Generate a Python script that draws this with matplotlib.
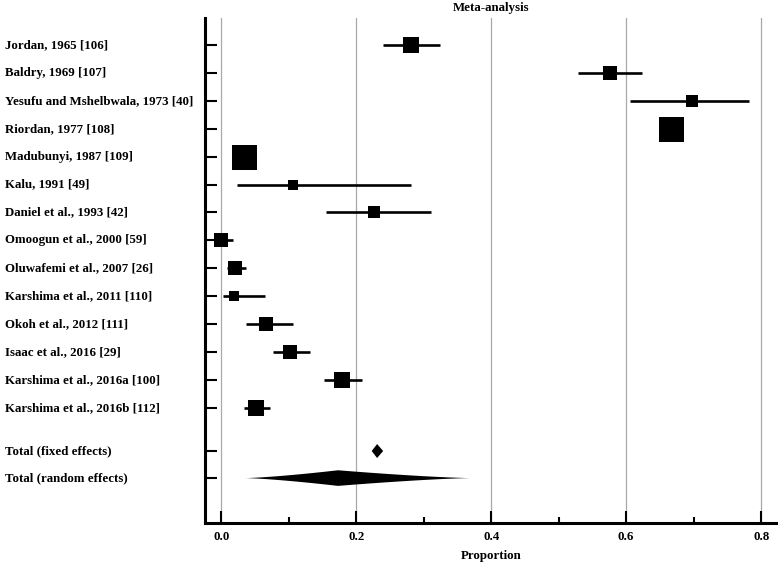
import numpy as np
import matplotlib
matplotlib.use("Agg")
import matplotlib.pyplot as plt
from matplotlib.transforms import blended_transform_factory
from matplotlib.ticker import MultipleLocator

studies = ["Jordan, 1965 [106]", "Baldry, 1969 [107]", "Yesufu and Mshelbwala, 1973 [40]",
           "Riordan, 1977 [108]", "Madubunyi, 1987 [109]", "Kalu, 1991 [49]",
           "Daniel et al., 1993 [42]", "Omoogun et al., 2000 [59]", "Oluwafemi et al., 2007 [26]",
           "Karshima et al., 2011 [110]", "Okoh et al., 2012 [111]", "Isaac et al., 2016 [29]",
           "Karshima et al., 2016a [100]", "Karshima et al., 2016b [112]"]
proportion = [0.281, 0.576, 0.698, 0.667, 0.034, 0.107, 0.226, 0.000, 0.020, 0.019, 0.066, 0.102, 0.179, 0.051]
ci_low = [0.240, 0.529, 0.605, 0.660, 0.025, 0.023, 0.155, 0.000, 0.008, 0.002, 0.037, 0.077, 0.152, 0.034]
ci_high = [0.324, 0.623, 0.782, 0.675, 0.043, 0.281, 0.311, 0.017, 0.037, 0.065, 0.107, 0.132, 0.209, 0.072]
weights = [7.2, 5.9, 4.1, 17.6, 17.6, 3.4, 4.1, 4.8, 6.3, 3.4, 4.8, 6.3, 7.2, 7.2]

total_labels = ["Total (fixed effects)", "Total (random effects)"]
total_est = [0.231, 0.173]
total_low = [0.223, 0.036]
total_high = [0.240, 0.369]

xticks = [0.0, 0.2, 0.4, 0.6, 0.8]
xticklabels = ["0.0", "0.2", "0.4", "0.6", "0.8"]

W, H = 778, 566
fig = plt.figure(figsize=(W / 100, H / 100), dpi=100)
ax = fig.add_axes([205 / W, 1 - 523 / H, 1 - 205 / W, (523 - 18) / H])

serif = ["Liberation Serif", "DejaVu Serif"]
fs = 9.3

n = len(studies)
ypos = list(np.arange(n))
ytot = [n + 0.55, n + 1.52]

for i in range(n):
    ax.plot([ci_low[i], ci_high[i]], [ypos[i], ypos[i]], color="black", lw=1.9,
            solid_capstyle="butt", zorder=3)
    side_px = 25 * np.sqrt(weights[i] / max(weights))
    ax.plot(proportion[i], ypos[i], marker="s", color="black",
            markersize=side_px * 0.72, markeredgewidth=0, zorder=4)

# fixed effects diamond
hh = 0.25
c, lo, hi = total_est[0], total_low[0], total_high[0]
y = ytot[0]
ax.fill([lo, c, hi, c], [y, y - hh, y, y + hh], color="black", lw=0, zorder=4)

# random effects diamond (slightly concave sides)
c, lo, hi = total_est[1], total_low[1], total_high[1]
y = ytot[1]
hh = 0.28
xl = np.linspace(lo, c, 40)
tl = hh * ((xl - lo) / (c - lo)) ** 1.35
xr = np.linspace(c, hi, 40)
tr = hh * ((hi - xr) / (hi - c)) ** 1.35
xs = np.concatenate([xl, xr, xr[::-1], xl[::-1]])
ys = np.concatenate([y - tl, y - tr, y + tr[::-1], y + tl[::-1]])
ax.fill(xs, ys, color="black", lw=0, zorder=4)

ax.set_xlim(-0.024, 0.825)
ax.set_ylim(17.13, -0.97)

ax.set_xticks(xticks)
ax.set_xticklabels(xticklabels)
ax.xaxis.set_minor_locator(MultipleLocator(0.1))
ax.tick_params(axis="x", which="major", direction="in", length=8.6, width=1.5, pad=6,
               labelsize=fs)
ax.tick_params(axis="x", which="minor", direction="in", length=4.3, width=1.5)
for lab in ax.get_xticklabels():
    lab.set_fontfamily(serif)
    lab.set_fontweight("bold")

ax.set_yticks(ypos + ytot)
ax.set_yticklabels([])
ax.tick_params(axis="y", direction="in", length=8.6, width=1.5)

for v in xticks:
    ax.axvline(v, color="#a8a8a8", lw=0.9, zorder=1)

for s in ["top", "right"]:
    ax.spines[s].set_visible(False)
for s in ["left", "bottom"]:
    ax.spines[s].set_linewidth(2.2)

tr_lab = blended_transform_factory(fig.transFigure, ax.transData)
for lab, yy in zip(studies + total_labels, ypos + ytot):
    ax.text(5 / W, yy, lab, transform=tr_lab, ha="left", va="center",
            fontsize=fs, fontweight="bold", family=serif)

ax.set_xlabel("Proportion", fontsize=fs, fontweight="bold", family=serif, labelpad=5)
ax.set_title("Meta-analysis", fontsize=fs, fontweight="bold", family=serif, pad=5)

fig.savefig("out.png", dpi=100)
